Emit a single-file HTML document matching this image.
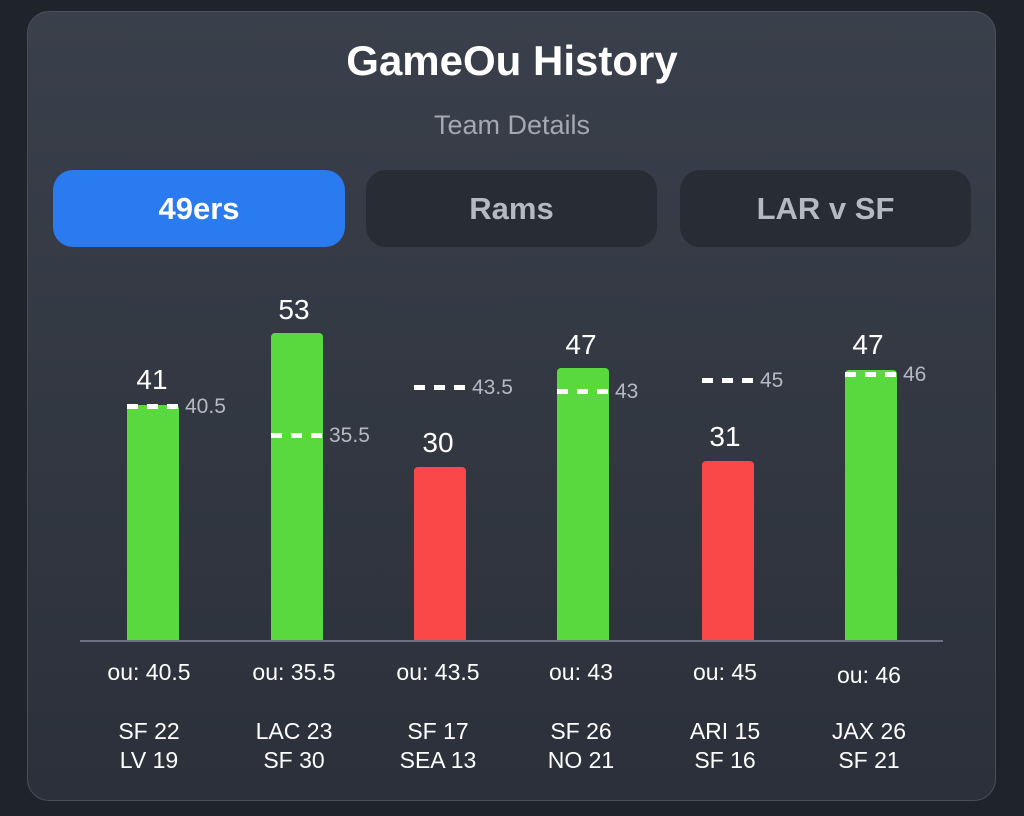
<!DOCTYPE html>
<html><head><style>
body{margin:0;width:1024px;height:816px;background:#1f232c;font-family:"Liberation Sans",sans-serif;overflow:hidden;position:relative}
.card{position:absolute;left:27px;top:11px;width:969px;height:790px;border-radius:22px;background:linear-gradient(#3a404b,#2b303a);border:1px solid #4a505b;box-sizing:border-box}
.t{position:absolute;width:100%;text-align:center;color:#fff}
.btn{position:absolute;top:170px;height:77px;border-radius:20px;display:flex;align-items:center;justify-content:center;font-weight:bold;font-size:31px;color:#b5b9c1;background:#272c35}
.bar{position:absolute;width:52px;border-radius:4px 4px 0 0}
.g{background:#59d93e}.r{background:#fa4848}
.v{position:absolute;width:80px;text-align:center;color:#fff;font-size:28px}
.d{position:absolute;height:5px;width:52px;background:repeating-linear-gradient(90deg,#fff 0 11px,transparent 11px 20px)}
.dl{position:absolute;color:#b5b9c1;font-size:21px}
.ou{position:absolute;width:140px;text-align:center;color:#fff;font-size:23px}
.tm{position:absolute;width:140px;text-align:center;color:#fff;font-size:23px;line-height:29px}
</style></head><body>
<div class="card"></div>
<div class="t" style="top:37px;font-size:42px;font-weight:bold">GameOu History</div>
<div class="t" style="top:110px;font-size:27px;color:#a3a8b1">Team Details</div>
<div class="btn" style="left:53px;width:292px;background:#2b7bf0;color:#fff">49ers</div>
<div class="btn" style="left:366px;width:291px">Rams</div>
<div class="btn" style="left:680px;width:291px">LAR v SF</div>
<div style="position:absolute;left:80px;top:640px;width:863px;height:2px;background:#6b7180"></div>

<div class="bar g" style="left:127px;top:405px;height:235px"></div>
<div class="bar g" style="left:271px;top:333px;height:307px"></div>
<div class="bar r" style="left:414px;top:467px;height:173px"></div>
<div class="bar g" style="left:557px;top:368px;height:272px"></div>
<div class="bar r" style="left:702px;top:461px;height:179px"></div>
<div class="bar g" style="left:845px;top:370px;height:270px"></div>

<div class="v" style="left:112px;top:364px">41</div>
<div class="v" style="left:254px;top:294px">53</div>
<div class="v" style="left:398px;top:427px">30</div>
<div class="v" style="left:541px;top:329px">47</div>
<div class="v" style="left:685px;top:421px">31</div>
<div class="v" style="left:828px;top:329px">47</div>

<div class="d" style="left:127px;top:404px"></div><div class="dl" style="left:185px;top:395px">40.5</div>
<div class="d" style="left:271px;top:433px"></div><div class="dl" style="left:329px;top:424px">35.5</div>
<div class="d" style="left:414px;top:385px"></div><div class="dl" style="left:472px;top:376px">43.5</div>
<div class="d" style="left:557px;top:389px"></div><div class="dl" style="left:615px;top:380px">43</div>
<div class="d" style="left:702px;top:378px"></div><div class="dl" style="left:760px;top:369px">45</div>
<div class="d" style="left:845px;top:372px"></div><div class="dl" style="left:903px;top:363px">46</div>

<div class="ou" style="left:79px;top:659px">ou: 40.5</div>
<div class="ou" style="left:224px;top:659px">ou: 35.5</div>
<div class="ou" style="left:368px;top:659px">ou: 43.5</div>
<div class="ou" style="left:511px;top:659px">ou: 43</div>
<div class="ou" style="left:655px;top:659px">ou: 45</div>
<div class="ou" style="left:799px;top:662px">ou: 46</div>

<div class="tm" style="left:79px;top:717px">SF 22<br>LV 19</div>
<div class="tm" style="left:224px;top:717px">LAC 23<br>SF 30</div>
<div class="tm" style="left:368px;top:717px">SF 17<br>SEA 13</div>
<div class="tm" style="left:511px;top:717px">SF 26<br>NO 21</div>
<div class="tm" style="left:655px;top:717px">ARI 15<br>SF 16</div>
<div class="tm" style="left:799px;top:717px">JAX 26<br>SF 21</div>
</body></html>
